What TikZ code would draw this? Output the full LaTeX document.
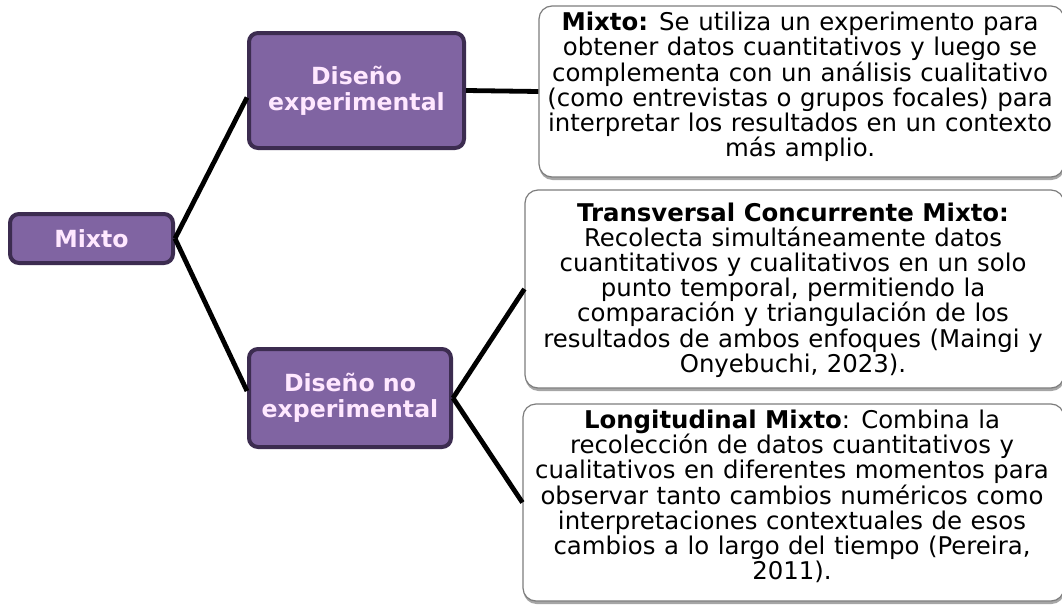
\documentclass[tikz,border=0pt]{standalone}
\usepackage{fontspec}
\setmainfont{DejaVu Sans}
\usetikzlibrary{shadows}
\definecolor{purplefill}{RGB}{128,100,162}
\definecolor{purpleedge}{RGB}{60,44,80}
\definecolor{pinktext}{RGB}{255,232,255}
\definecolor{grayedge}{RGB}{125,125,125}
\newcommand\descfont{\fontsize{24.4}{25.2}\selectfont\spaceskip 0.35em plus 0.1em minus 0.05em\relax}
\tikzset{
  catbox/.style={draw=purpleedge, line width=4pt, fill=purplefill, rounded corners=9pt,
    text=pinktext, font=\fontsize{23.6}{26}\selectfont\bfseries, align=center, inner sep=0pt},
  descbox/.style={draw=grayedge, line width=1.2pt, fill=white, rounded corners=13pt,
    drop shadow={shadow xshift=0.5pt, shadow yshift=-3pt, opacity=0.35, fill=black}},
  desctext/.style={font=\descfont, align=center, inner sep=0pt, text=black},
  link/.style={line width=4.8pt, draw=black}
}
\begin{document}
\begin{tikzpicture}[x=1pt,y=-1pt]
\useasboundingbox[fill=white] (0,0) rectangle (1062,605);

% category boxes
\node[catbox, minimum width=163pt, minimum height=49pt] (mixto) at (91.5,238.5) {Mixto};
\node[catbox, minimum width=215pt, minimum height=115pt] (exp) at (356.5,90.5) {Diseño\\experimental};
\node[catbox, minimum width=202pt, minimum height=98pt] (noexp) at (350,398) {Diseño no\\experimental};

% description boxes
\node[descbox, minimum width=525pt, minimum height=171pt] (d1) at (801.5,91.5) {};
\node[descbox, minimum width=539pt, minimum height=198pt] (d2) at (794.5,289) {};
\node[descbox, minimum width=541pt, minimum height=197pt] (d3) at (793.5,502.5) {};

\node[desctext] (t1) at (800,87) {\textbf{Mixto:} Se utiliza un experimento para\\
obtener datos cuantitativos y luego se\\
complementa con un análisis cualitativo\\
(como entrevistas o grupos focales) para\\
interpretar los resultados en un contexto\\
más amplio.};

\node[desctext] (t2) at (793,290) {\textbf{Transversal Concurrente Mixto:}\\
Recolecta simultáneamente datos\\
cuantitativos y cualitativos en un solo\\
punto temporal, permitiendo la\\
comparación y triangulación de los\\
resultados de ambos enfoques (Maingi y\\
Onyebuchi, 2023).};

\node[desctext] (t3) at (792,496.5) {\textbf{Longitudinal Mixto}: Combina la\\
recolección de datos cuantitativos y\\
cualitativos en diferentes momentos para\\
observar tanto cambios numéricos como\\
interpretaciones contextuales de esos\\
cambios a lo largo del tiempo (Pereira,\\
2011).};

% connectors
\draw[link] (mixto.east) -- ([yshift=-7pt]exp.west);
\draw[link] (mixto.east) -- ([yshift=7pt]noexp.west);
\draw[link] (exp.east) -- (d1.west);
\draw[link] (noexp.east) -- (d2.west);
\draw[link] (noexp.east) -- (d3.west);
\end{tikzpicture}
\end{document}
